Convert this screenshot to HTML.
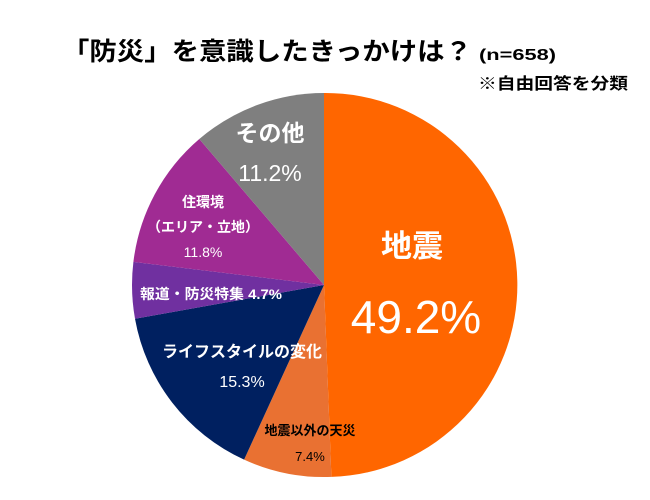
<!DOCTYPE html>
<html><head><meta charset="utf-8"><style>
html,body{margin:0;padding:0;background:#fff;}
svg{display:block;font-family:"Liberation Sans","Noto Sans CJK JP",sans-serif;}
</style></head><body>
<svg width="650" height="500" viewBox="0 0 650 500">
<rect width="650" height="500" fill="#fff"/>
<text x="62" y="60" font-size="25" font-weight="bold" fill="#000" textLength="410" lengthAdjust="spacingAndGlyphs">「防災」を意識したきっかけは？</text>
<text x="479" y="60" font-size="16" font-weight="bold" fill="#000" textLength="77" lengthAdjust="spacingAndGlyphs">(n=658)</text>
<text x="478" y="89" font-size="16" font-weight="bold" fill="#000" textLength="150" lengthAdjust="spacingAndGlyphs">※自由回答を分類</text>
<g stroke="none">
<path d="M324,285 L324,93 A192,192 0 0 1 331.4,476.9 Z" fill="#FF6600"/>
<path d="M324,285 L331.4,476.9 A192,192 0 0 1 244.1,459.6 Z" fill="#E97132"/>
<path d="M324,285 L244.1,459.6 A192,192 0 0 1 135.0,318.7 Z" fill="#002060"/>
<path d="M324,285 L135.0,318.7 A192,192 0 0 1 133.4,261.9 Z" fill="#7030A0"/>
<path d="M324,285 L133.4,261.9 A192,192 0 0 1 199.3,139.0 Z" fill="#A02B93"/>
<path d="M324,285 L199.3,139.0 A192,192 0 0 1 324,93 Z" fill="#7F7F7F"/>
</g>
<g fill="#fff" text-anchor="middle" font-weight="bold">
<text x="412" y="257" font-size="31">地震</text>
<text x="416" y="333" font-size="46" font-weight="normal">49.2%</text>
<text x="270" y="141" font-size="23">その他</text>
<text x="270" y="181" font-size="23" font-weight="normal">11.2%</text>
<text x="203" y="207" font-size="14">住環境</text>
<text x="203" y="232" font-size="14">（エリア・立地）</text>
<text x="203" y="257" font-size="14" font-weight="normal">11.8%</text>
<text x="211" y="299" font-size="14" textLength="142" lengthAdjust="spacingAndGlyphs">報道・防災特集 4.7%</text>
<text x="242" y="357" font-size="16">ライフスタイルの変化</text>
<text x="242" y="387" font-size="16" font-weight="normal">15.3%</text>
</g>
<g fill="#000" text-anchor="middle" font-weight="bold">
<text x="310" y="435" font-size="13">地震以外の天災</text>
<text x="310" y="461" font-size="13" font-weight="normal">7.4%</text>
</g>
</svg>
</body></html>
